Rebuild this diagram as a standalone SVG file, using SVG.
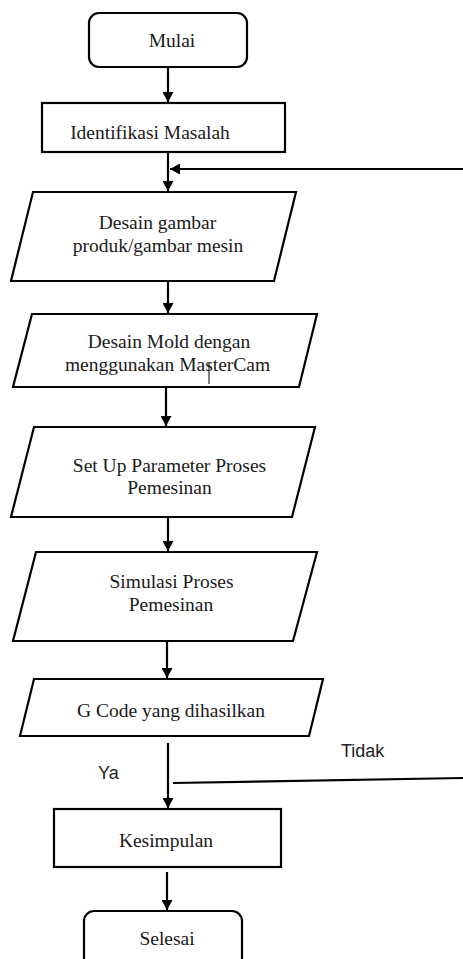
<svg xmlns="http://www.w3.org/2000/svg" width="463" height="959" viewBox="0 0 463 959">
<defs>
<style>
.box{fill:#fff;stroke:#000;stroke-width:2.2;stroke-linejoin:miter}
.t{font-family:"Liberation Serif","Times New Roman",serif;font-size:19.5px;fill:#1a1a1a;text-anchor:middle}
.lbl{font-family:"Liberation Sans",Arial,sans-serif;font-size:18px;fill:#222}
.c{fill:none;stroke:#000;stroke-width:2.2}
</style>
<marker id="ah" markerUnits="userSpaceOnUse" markerWidth="11" markerHeight="11" refX="10" refY="5.5" orient="auto" viewBox="0 0 11 11">
<path d="M0,0 L10,5.5 L0,11 z" fill="#000"/>
</marker>
</defs>
<rect width="463" height="959" fill="#fff"/>
<g id="connectors">
<line class="c" x1="168" y1="67" x2="168" y2="102" marker-end="url(#ah)"/>
<line class="c" x1="168" y1="152" x2="168" y2="191" marker-end="url(#ah)"/>
<line class="c" x1="463" y1="169" x2="170" y2="169" marker-end="url(#ah)"/>
<line class="c" x1="168" y1="281" x2="168" y2="313" marker-end="url(#ah)"/>
<line class="c" x1="166" y1="387" x2="166" y2="426" marker-end="url(#ah)"/>
<line class="c" x1="168" y1="517" x2="168" y2="551" marker-end="url(#ah)"/>
<line class="c" x1="167" y1="641" x2="167" y2="678" marker-end="url(#ah)"/>
<line class="c" x1="168" y1="743" x2="168" y2="808" marker-end="url(#ah)"/>
<line class="c" x1="173" y1="783" x2="463" y2="778"/>
<line class="c" x1="167" y1="872" x2="167" y2="910" marker-end="url(#ah)"/>
<text class="lbl" x="98" y="779">Ya</text>
<text class="lbl" x="341" y="757">Tidak</text>
</g>
<g id="mulai">
<rect class="box" x="89" y="13" width="158" height="54" rx="10"/>
<text class="t" x="172" y="47">Mulai</text>
</g>
<g id="identifikasi">
<rect class="box" x="42" y="103" width="243" height="49"/>
<text class="t" x="150" y="139">Identifikasi Masalah</text>
</g>
<g id="desain-gambar">
<polygon class="box" points="33,192 296,192 274,281 11,281"/>
<text class="t" x="157.5" y="229">Desain gambar</text>
<text class="t" x="158" y="252">produk/gambar mesin</text>
</g>
<g id="desain-mold">
<polygon class="box" points="32,314 317,314 299,387 13,387"/>
<text class="t" x="169" y="348">Desain Mold dengan</text>
<text class="t" x="167.5" y="371">menggunakan MasterCam</text>
<line x1="209" y1="363" x2="209" y2="384" stroke="#000" stroke-width="1"/>
</g>
<g id="setup">
<polygon class="box" points="34,427 315,427 292,517 11,517"/>
<text class="t" x="169.5" y="472">Set Up Parameter Proses</text>
<text class="t" x="169.5" y="494">Pemesinan</text>
</g>
<g id="simulasi">
<polygon class="box" points="36,552 317,552 293,641 13,641"/>
<text class="t" x="171.5" y="588">Simulasi Proses</text>
<text class="t" x="171" y="611">Pemesinan</text>
</g>
<g id="gcode">
<polygon class="box" points="34,679 323,679 309,736 20,736"/>
<text class="t" x="171" y="717">G Code yang dihasilkan</text>
</g>
<g id="kesimpulan">
<rect class="box" x="54" y="809" width="227" height="58"/>
<text class="t" x="166" y="847">Kesimpulan</text>
</g>
<g id="selesai">
<rect class="box" x="84" y="911" width="158" height="60" rx="10"/>
<text class="t" x="167" y="945">Selesai</text>
</g>
</svg>
